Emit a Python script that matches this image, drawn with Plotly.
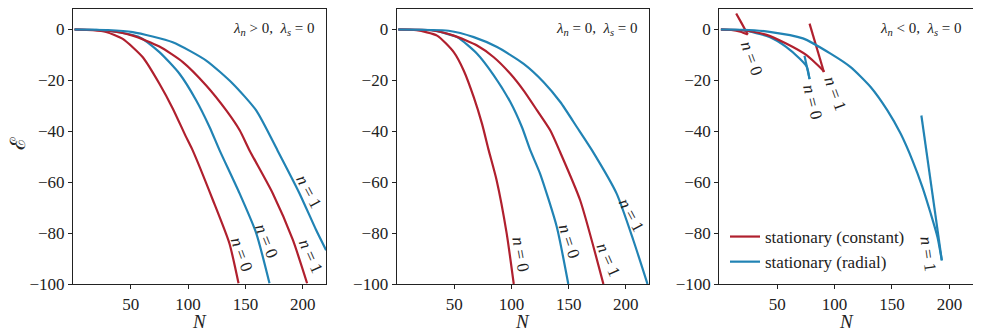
import plotly.graph_objects as go

RED = "#b0202e"
BLUE = "#2183b4"
FONT = "Liberation Serif"

# ---------- Panel 1: lambda_n > 0 ----------
p1_con_n0_N = [1, 17, 28.5, 43, 60.5, 75, 86.6, 98, 104, 121.6, 136, 144]
p1_con_n0_E = [0, -0.3, -1.0, -3.7, -10.9, -21.3, -31, -42, -47.5, -67, -84, -99.7]
p1_rad_n0_N = [1, 20, 35, 57.6, 75, 92.5, 107, 118.7, 127.5, 144.9, 159.4, 171]
p1_rad_n0_E = [0, -0.1, -0.8, -3, -8.9, -17.4, -27.8, -38.3, -47.5, -64.4, -80, -99.7]
p1_con_n1_N = [1, 28.5, 51.7, 75, 95.4, 115.8, 133.3, 145, 153.6, 173.9, 191.4, 203.8]
p1_con_n1_E = [0, -0.4, -2.4, -6.7, -12.8, -22, -31.8, -39.6, -47.5, -64.4, -82.7, -99.7]
p1_rad_n1_N = [1, 30, 51.7, 86.6, 115.8, 139, 159.4, 178, 197.2, 211.7, 220.4]
p1_rad_n1_E = [0, -0.2, -1.0, -5, -12.2, -21.3, -31.8, -47.5, -64.4, -78.8, -86.7]

# ---------- Panel 2: lambda_n = 0 ----------
p2_con_n0_N = [1, 17, 34.9, 49.5, 58.2, 67, 74.2, 80.1, 87, 95.8, 102]
p2_con_n0_E = [0, -0.3, -2.4, -8.9, -16.1, -26.6, -37, -47.5, -59.2, -80.1, -100]
p2_rad_n0_N = [1, 30, 52.4, 69.9, 84.5, 99, 109.2, 116.5, 125, 139.6, 149.7]
p2_rad_n0_E = [0, -0.3, -3, -9.5, -18, -28.5, -38.4, -47.5, -56.6, -77.5, -100]
p2_con_n1_N = [1, 30, 49.5, 69.9, 84.5, 99, 110.7, 122.4, 134, 141.9, 160, 180.4]
p2_con_n1_E = [0, -0.3, -2.4, -6.3, -10.9, -17.4, -24, -31.8, -39.7, -47.5, -67, -100]
p2_rad_n1_N = [1, 45, 67, 87.4, 110.7, 128.2, 142.7, 157.3, 170.5, 192, 206.6, 219]
p2_rad_n1_E = [0, -0.5, -3, -6.9, -13.5, -20.7, -28.5, -38.4, -47.5, -64.5, -82.8, -100]

# ---------- Panel 3: lambda_n < 0 (lower branch to the cusp, then upper branch) ----------
p3_con_n0_N = [1, 10, 18, 24.4]
p3_con_n0_E = [0, -0.2, -0.9, -2.0]
p3_con_n0_back_N = [24.4, 19, 14.3]
p3_con_n0_back_E = [-2.0, 2.5, 6.3]
p3_con_n1_N = [1, 20, 40, 57.8, 75.3, 89.8, 90.7]
p3_con_n1_E = [0, -0.3, -2, -5.5, -10, -16, -16.7]
p3_con_n1_back_N = [90.7, 78.2]
p3_con_n1_back_E = [-16.7, 2.3]
p3_rad_n0_N = [1, 20, 43.3, 57.8, 69.5, 75.8, 78.2]
p3_rad_n0_E = [0, -0.3, -2.9, -6.8, -11.4, -14.6, -19.5]
p3_rad_n0_back_N = [78.2, 73.8]
p3_rad_n0_back_E = [-19.5, -10.3]
p3_rad_n1_N = [1, 20, 43.3, 72.4, 96.5, 114, 131.4, 146, 157.6, 167.8, 176.5, 183.8, 189.6, 193.4]
p3_rad_n1_E = [0, -0.1, -0.9, -3.5, -9.5, -14.8, -22.6, -31.8, -41, -51.4, -61.9, -72.4, -81.5, -90.7]
p3_rad_n1_back_N = [193.4, 175.6]
p3_rad_n1_back_E = [-90.7, -33.8]

panel_titles = ["<i>λ</i><sub><i>n</i></sub> &gt; 0,  <i>λ</i><sub><i>s</i></sub> = 0",
                "<i>λ</i><sub><i>n</i></sub> = 0,  <i>λ</i><sub><i>s</i></sub> = 0",
                "<i>λ</i><sub><i>n</i></sub> &lt; 0,  <i>λ</i><sub><i>s</i></sub> = 0"]

# curve labels: (panel, N, E, text, angle)
labels = [
    (1, 146.2, -88.2, "0", 70), (1, 168.1, -83.0, "0", 68),
    (1, 206.5, -89.0, "1", 66), (1, 205.1, -63.8, "1", 62),
    (2, 107.5, -88.2, "0", 80), (2, 150.3, -83.4, "0", 72),
    (2, 185.3, -90.6, "1", 66), (2, 205.2, -73.0, "1", 62),
    (3, 27.8, -11.4, "0", 70), (3, 80.5, -28.4, "0", 76),
    (3, 100.6, -25.1, "1", 70), (3, 181.4, -88.0, "1", 82),
]

x_ticks = [50, 100, 150, 200]
y_ticks = [0, -20, -40, -60, -80, -100]

# the page body adds an 8 px offset, so the figure is 8 px smaller and all
# positions below are (window pixel - 8)
OFF = 8
W, H = 981 - OFF, 336 - OFF
x_domains = [((73 - OFF) / W, (326 - OFF) / W),
             ((396.7 - OFF) / W, (649 - OFF) / W),
             ((719.3 - OFF) / W, (972.7 - OFF) / W)]
y_domain = ((336 - 284) / H, (H - 0.5) / H)

fig = go.Figure()

series = [
    (1, p1_con_n0_N, p1_con_n0_E, RED, "spline"), (1, p1_rad_n0_N, p1_rad_n0_E, BLUE, "spline"),
    (1, p1_con_n1_N, p1_con_n1_E, RED, "spline"), (1, p1_rad_n1_N, p1_rad_n1_E, BLUE, "spline"),
    (2, p2_con_n0_N, p2_con_n0_E, RED, "spline"), (2, p2_rad_n0_N, p2_rad_n0_E, BLUE, "spline"),
    (2, p2_con_n1_N, p2_con_n1_E, RED, "spline"), (2, p2_rad_n1_N, p2_rad_n1_E, BLUE, "spline"),
    (3, p3_con_n0_N, p3_con_n0_E, RED, "spline"), (3, p3_con_n0_back_N, p3_con_n0_back_E, RED, "spline"),
    (3, p3_rad_n0_N, p3_rad_n0_E, BLUE, "spline"), (3, p3_rad_n0_back_N, p3_rad_n0_back_E, BLUE, "linear"),
    (3, p3_con_n1_N, p3_con_n1_E, RED, "spline"), (3, p3_con_n1_back_N, p3_con_n1_back_E, RED, "linear"),
    (3, p3_rad_n1_N, p3_rad_n1_E, BLUE, "spline"), (3, p3_rad_n1_back_N, p3_rad_n1_back_E, BLUE, "linear"),
]
legend_done = set()
for p, xs, ys, c, shape in series:
    name = "stationary (constant)" if c == RED else "stationary (radial)"
    show = (p == 3 and c not in legend_done)
    if show:
        legend_done.add(c)
    sfx = "" if p == 1 else str(p)
    fig.add_trace(go.Scatter(x=xs, y=ys, mode="lines",
                             line=dict(color=c, width=2.2, shape=shape, smoothing=0.6),
                             name=name, showlegend=show, xaxis="x" + sfx, yaxis="y" + sfx))

axis_common = dict(showline=True, linecolor="#222", linewidth=1.2, mirror=True,
                   ticks="outside", ticklen=4, tickwidth=1, tickcolor="#222",
                   showgrid=False, zeroline=False, automargin=False,
                   tickfont=dict(family=FONT, size=17, color="#222"))

layout = dict(template="none", width=W, height=H, margin=dict(l=0, r=0, t=0, b=0, pad=0),
              plot_bgcolor="white", paper_bgcolor="white",
              font=dict(family=FONT, color="#222"),
              showlegend=True,
              legend=dict(x=(725 - OFF) / W, y=1 - (280 - OFF) / H, xanchor="left", yanchor="bottom",
                          bgcolor="rgba(255,255,255,0)", font=dict(family=FONT, size=17, color="#222"),
                          itemwidth=30, tracegroupgap=0))
for i in range(3):
    sfx = "" if i == 0 else str(i + 1)
    layout["xaxis" + sfx] = dict(domain=x_domains[i], range=[-0.4, 220.3], tickvals=x_ticks,
                                 anchor="y" + sfx, **axis_common)
    layout["yaxis" + sfx] = dict(domain=y_domain, range=[-100, 8.25], tickvals=y_ticks,
                                 anchor="x" + sfx, **axis_common)
fig.update_layout(**layout)

ann = []
for i in range(3):
    sfx = "" if i == 0 else str(i + 1)
    ann.append(dict(text=panel_titles[i], xref="x" + sfx + " domain", yref="y" + sfx + " domain",
                    x=0.965, y=0.965, xanchor="right", yanchor="top", showarrow=False,
                    font=dict(family=FONT, size=15, color="#222")))
    xc = (x_domains[i][0] + x_domains[i][1]) / 2
    ann.append(dict(text="<i>N</i>", xref="paper", yref="paper", x=xc, y=1 - (321 - OFF) / H,
                    xanchor="center", yanchor="middle", showarrow=False,
                    font=dict(family=FONT, size=19, color="#222")))
for p, n, e, t, a in labels:
    sfx = "" if p == 1 else str(p)
    ann.append(dict(text="<i>n</i> = " + t, x=n, y=e, xref="x" + sfx, yref="y" + sfx,
                    showarrow=False, textangle=a, xanchor="center", yanchor="middle",
                    font=dict(family=FONT, size=17, color="#222")))
ann.append(dict(text="ℰ", xref="paper", yref="paper", x=(18 - OFF) / W, y=1 - (144 - OFF) / H,
                showarrow=False, textangle=-90, xanchor="center", yanchor="middle",
                font=dict(family="DejaVu Serif", size=21, color="#222")))
fig.update_layout(annotations=ann)

fig.write_html("out.html")
